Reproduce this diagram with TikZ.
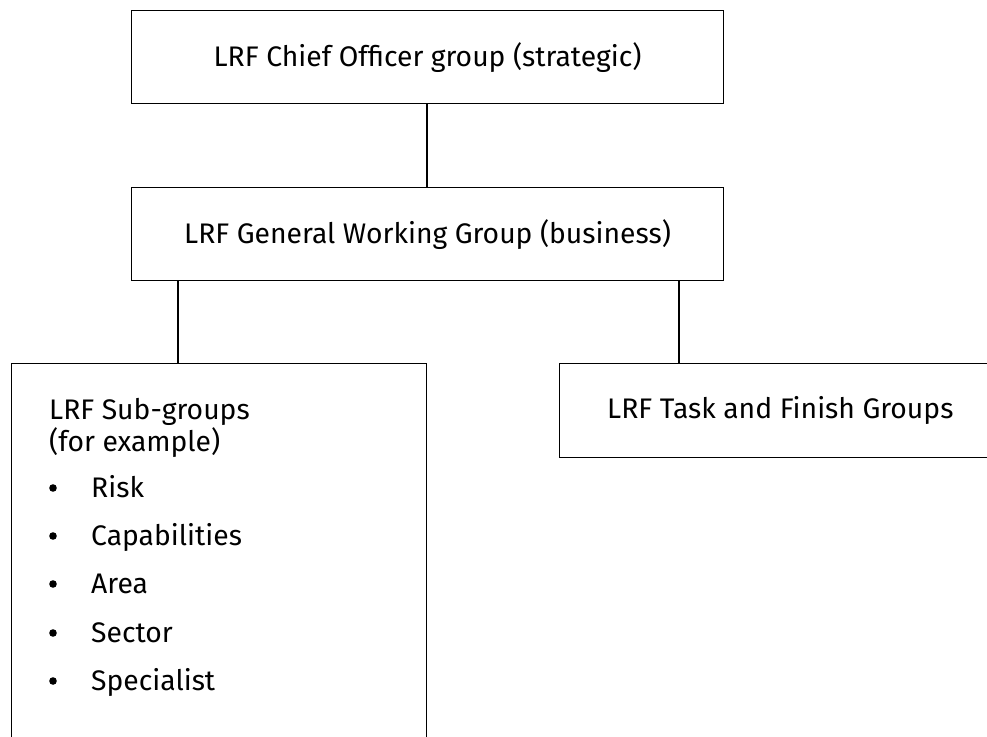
\documentclass[tikz,border=0pt]{standalone}
\usepackage{fontspec}
\setmainfont{Fira Sans}
\begin{document}
\begin{tikzpicture}[x=1pt,y=-1pt,
  orgbox/.style={draw=black, line width=1.2pt, inner sep=0pt, anchor=north west},
  link/.style={draw=black, line width=1.6pt},
  txt/.style={font=\fontsize{28.3}{34}\selectfont, inner sep=0pt},
  item/.style={txt, anchor=base west}
]
\useasboundingbox (0,0) rectangle (987,736);
\clip (0,0) rectangle (987,736);

% strategic and business tiers
\node[orgbox, minimum width=592pt, minimum height=93pt] (chief) at (131,10) {};
\node[txt] (chieflbl) at (chief.center) {LRF Chief Officer group (strategic)};
\node[orgbox, minimum width=592pt, minimum height=93pt] (gwg) at (131,187) {};
\node[txt] (gwglbl) at (gwg.center) {LRF General Working Group (business)};

% lower tier, running off the page
\node[orgbox, minimum width=415pt, minimum height=420pt] (sub) at (11,363) {};
\node[orgbox, minimum width=460pt, minimum height=94pt] (tfg) at (559,363) {};
\node[txt, anchor=west] (tfglbl) at ([xshift=48pt]tfg.west) {LRF Task and Finish Groups};

% sub-group contents
\node[item] (h1) at (49,419) {LRF Sub-groups};
\node[item] (h2) at (49,451) {(for example)};
\foreach \name/\y/\t in {r/497/Risk, c/545/Capabilities, a/593/Area, s/642/Sector, p/690/Specialist}{
  \node[item] (\name) at (91,\y) {\t};
  \fill ([xshift=-38pt,yshift=9pt]\name.base west) circle (3.8pt);
}

% connectors
\draw[link] (427,0 |- chief.south) -- (427,0 |- gwg.north);
\draw[link] (178,0 |- gwg.south) -- (178,0 |- sub.north);
\draw[link] (679,0 |- gwg.south) -- (679,0 |- tfg.north);
\end{tikzpicture}
\end{document}
